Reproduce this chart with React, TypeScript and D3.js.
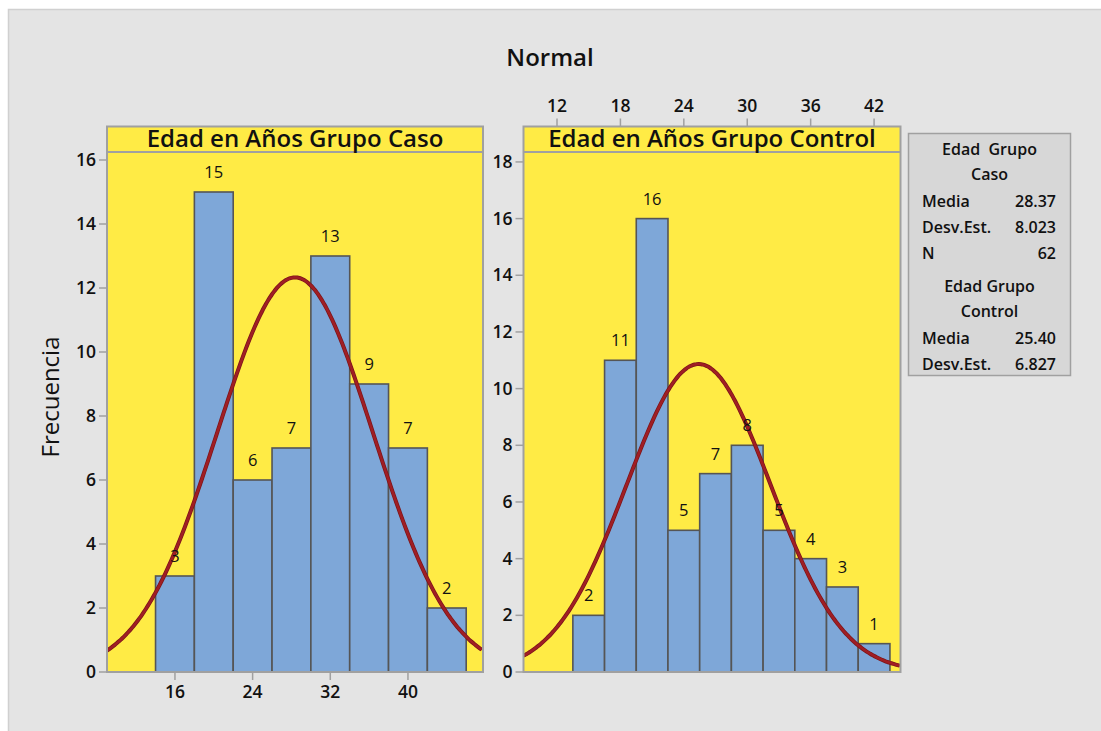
import React from "react";
import * as d3 from "d3";

const casoCenters = [16, 20, 24, 28, 32, 36, 40, 44];
const casoCounts = [3, 15, 6, 7, 13, 9, 7, 2];
const casoBinWidth = 4;
const casoStats = { mean: 28.37, sd: 8.023, n: 62 };

const controlCenters = [15, 18, 21, 24, 27, 30, 33, 36, 39, 42];
const controlCounts = [2, 11, 16, 5, 7, 8, 5, 4, 3, 1];
const controlBinWidth = 3;
const controlStats = { mean: 25.4, sd: 6.827, n: 62 };

const casoXTicks = [16, 24, 32, 40];
const casoYTicks = [0, 2, 4, 6, 8, 10, 12, 14, 16];
const controlXTicks = [12, 18, 24, 30, 36, 42];
const controlYTicks = [0, 2, 4, 6, 8, 10, 12, 14, 16, 18];

const FONT = "'Open Sans', 'Noto Sans', sans-serif";
const YELLOW = "#ffeb45";
const BAR = "#7ea7d8";
const CURVE = "#a01e24";
const PANEL_BORDER = "#a0a0a0";
const TICK_FS = 17.5;

type PanelProps = {
  id: string;
  x0: number;
  x1: number;
  xDomain: [number, number];
  yMax: number;
  centers: number[];
  counts: number[];
  binWidth: number;
  stats: { mean: number; sd: number; n: number };
  xTicks: number[];
  yTicks: number[];
  xAxisTop: boolean;
  title: string;
};

const TOP = 126.5;
const HEADER_B = 152;
const BASE = 672;

function Panel(p: PanelProps) {
  const x = d3.scaleLinear().domain(p.xDomain).range([p.x0, p.x1]);
  const y = d3.scaleLinear().domain([0, p.yMax]).range([BASE, HEADER_B]);
  const { mean, sd, n } = p.stats;
  const pdf = (v: number) =>
    (n * p.binWidth * Math.exp(-0.5 * ((v - mean) / sd) ** 2)) / (sd * Math.sqrt(2 * Math.PI));
  const pts = d3.range(p.xDomain[0], p.xDomain[1] + 0.001, 0.2).map((v) => [v, pdf(v)] as [number, number]);
  const line = d3
    .line<[number, number]>()
    .x((d) => x(d[0]))
    .y((d) => y(d[1]))
    .curve(d3.curveBasis);
  const clipId = "clip-" + p.id;
  return (
    <g>
      <defs>
        <clipPath id={clipId}>
          <rect x={p.x0} y={HEADER_B} width={p.x1 - p.x0} height={BASE - HEADER_B} />
        </clipPath>
      </defs>
      <rect x={p.x0} y={TOP} width={p.x1 - p.x0} height={BASE - TOP} fill={YELLOW} />
      {p.centers.map((c, i) => (
        <rect
          key={i}
          x={x(c - p.binWidth / 2)}
          y={y(p.counts[i])}
          width={x(c + p.binWidth / 2) - x(c - p.binWidth / 2)}
          height={BASE - y(p.counts[i])}
          fill={BAR}
          stroke="#555"
          strokeWidth={1.6}
        />
      ))}
      <g clipPath={`url(#${clipId})`}>
        <path d={line(pts) || ""} fill="none" stroke="#7a1418" strokeWidth={4} />
        <path d={line(pts) || ""} fill="none" stroke={CURVE} strokeWidth={2.6} />
      </g>
      {p.centers.map((c, i) => (
        <text
          key={"l" + i}
          x={x(c)}
          y={y(p.counts[i]) - 14}
          textAnchor="middle"
          fontSize={16.5}
          fontFamily={FONT}
          fill="#111"
        >
          {p.counts[i]}
        </text>
      ))}
      <rect
        x={p.x0}
        y={TOP}
        width={p.x1 - p.x0}
        height={BASE - TOP}
        fill="none"
        stroke={PANEL_BORDER}
        strokeWidth={2}
      />
      <line x1={p.x0} x2={p.x1} y1={HEADER_B} y2={HEADER_B} stroke={PANEL_BORDER} strokeWidth={2} />
      <text
        x={(p.x0 + p.x1) / 2}
        y={(TOP + HEADER_B) / 2 + 8}
        textAnchor="middle"
        fontSize={24}
        fontWeight={600}
        fontFamily={FONT}
        fill="#111"
      >
        {p.title}
      </text>
      {p.yTicks.map((t) => (
        <g key={"y" + t}>
          <line x1={p.x0 - 8} x2={p.x0} y1={y(t)} y2={y(t)} stroke={PANEL_BORDER} strokeWidth={1.5} />
          <text
            x={p.x0 - 11}
            y={y(t) + 6}
            textAnchor="end"
            fontSize={TICK_FS}
            fontWeight={600}
            fontFamily={FONT}
            fill="#111"
          >
            {t}
          </text>
        </g>
      ))}
      {p.xTicks.map((t) =>
        p.xAxisTop ? (
          <g key={"x" + t}>
            <line x1={x(t)} x2={x(t)} y1={TOP - 8} y2={TOP} stroke={PANEL_BORDER} strokeWidth={1.5} />
            <text
              x={x(t)}
              y={TOP - 15}
              textAnchor="middle"
              fontSize={TICK_FS}
              fontWeight={600}
              fontFamily={FONT}
              fill="#111"
            >
              {t}
            </text>
          </g>
        ) : (
          <g key={"x" + t}>
            <line x1={x(t)} x2={x(t)} y1={BASE} y2={BASE + 8} stroke={PANEL_BORDER} strokeWidth={1.5} />
            <text
              x={x(t)}
              y={BASE + 26}
              textAnchor="middle"
              fontSize={TICK_FS}
              fontWeight={600}
              fontFamily={FONT}
              fill="#111"
            >
              {t}
            </text>
          </g>
        )
      )}
    </g>
  );
}

const legendRows: { label: string; value?: string; center?: boolean; y: number }[] = [
  { label: "Edad  Grupo", center: true, y: 149 },
  { label: "Caso", center: true, y: 174 },
  { label: "Media", value: "28.37", y: 201 },
  { label: "Desv.Est.", value: "8.023", y: 227 },
  { label: "N", value: "62", y: 253 },
  { label: "Edad Grupo", center: true, y: 286 },
  { label: "Control", center: true, y: 311 },
  { label: "Media", value: "25.40", y: 338 },
  { label: "Desv.Est.", value: "6.827", y: 364 },
];

export default function App() {
  return (
    <svg
      width={1101}
      height={731}
      style={{ position: "absolute", left: 0, top: 0, display: "block" }}
    >
      <rect x={0} y={0} width={1101} height={731} fill="#ffffff" />
      <rect x={8.5} y={9.5} width={1100} height={730} fill="#e4e4e4" stroke="#d0d0d0" strokeWidth={1.5} />
      <text x={550} y={66} textAnchor="middle" fontSize={24} fontWeight={600} fontFamily={FONT} fill="#111">
        Normal
      </text>
      <text
        transform="translate(59,397) rotate(-90)"
        textAnchor="middle"
        fontSize={24}
        fontFamily={FONT}
        fontWeight={500}
        fill="#111"
      >
        Frecuencia
      </text>
      <Panel
        id="caso"
        x0={107}
        x1={483}
        xDomain={[9, 47.73]}
        yMax={16.25}
        centers={casoCenters}
        counts={casoCounts}
        binWidth={casoBinWidth}
        stats={casoStats}
        xTicks={casoXTicks}
        yTicks={casoYTicks}
        xAxisTop={false}
        title="Edad en Años Grupo Caso"
      />
      <Panel
        id="control"
        x0={523.5}
        x1={900.5}
        xDomain={[8.83, 44.5]}
        yMax={18.35}
        centers={controlCenters}
        counts={controlCounts}
        binWidth={controlBinWidth}
        stats={controlStats}
        xTicks={controlXTicks}
        yTicks={controlYTicks}
        xAxisTop={true}
        title="Edad en Años Grupo Control"
      />
      <g>
        <rect x={908.5} y={133.5} width={162} height={242} fill="#d7d7d7" stroke="#a0a0a0" strokeWidth={1.5} />
        {legendRows.map((r, i) =>
          r.center ? (
            <text
              key={i}
              x={989.5}
              y={r.y + 5.5}
              textAnchor="middle"
              fontSize={16}
              fontWeight={600}
              fontFamily={FONT}
              fill="#111"
              style={{ whiteSpace: "pre" }}
            >
              {r.label}
            </text>
          ) : (
            <g key={i}>
              <text x={922} y={r.y + 5.5} fontSize={16} fontWeight={600} fontFamily={FONT} fill="#111">
                {r.label}
              </text>
              <text x={1056} y={r.y + 5.5} textAnchor="end" fontSize={16} fontWeight={600} fontFamily={FONT} fill="#111">
                {r.value}
              </text>
            </g>
          )
        )}
      </g>
    </svg>
  );
}
